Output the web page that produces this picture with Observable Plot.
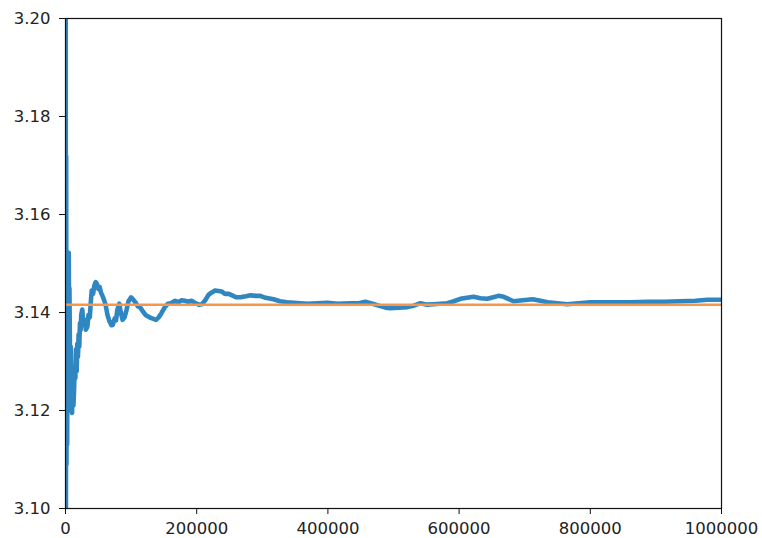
<!DOCTYPE html>
<html>
<head>
<meta charset="utf-8">
<script src="https://cdn.jsdelivr.net/npm/d3@7"></script>
<script src="https://cdn.jsdelivr.net/npm/@observablehq/plot@0.6"></script>
<style>
  html, body { margin: 0; padding: 0; background: #fff; }
  #chart svg { display: block; }
</style>
</head>
<body>
<div id="chart"></div>
<script>
// Number of samples (x) and running Monte-Carlo estimate of pi (y)
const samples = [
  1, 100, 300, 600, 1000, 1500, 2000, 2500, 3000, 3500, 4000, 4500, 5000, 5500, 6000,
  7000, 8000, 9000, 10000, 11000, 12000, 13000, 14000, 15000, 16000, 17000, 18000,
  19000, 20000, 21000, 22000, 23000, 24000, 25600, 27000, 29000, 31000, 33300, 35000,
  37000, 38500, 40000, 42000, 44000, 46000, 48000, 50000, 52000, 54000, 57000, 59000,
  61500, 64000, 67000, 70000, 72000, 75000, 77000, 79000, 82000, 84000, 87000, 90000,
  93000, 96000, 100000, 104000, 107000, 110000, 114000, 118000, 122000, 125600, 130000,
  134000, 138000, 142000, 146000, 151000, 156000, 161000, 167000, 172000, 177000,
  182000, 187000, 192000, 197000, 203000, 208000, 213000, 218000, 223000, 228000,
  233000, 238000, 243000, 249000, 254000, 260000, 266800, 275000, 282000, 290000,
  297000, 305000, 317000, 327000, 338000, 348000, 358000, 369000, 384000, 399000,
  415000, 434000, 447000, 457000, 468000, 480000, 488000, 495000, 508000, 521000,
  531000, 541000, 551000, 561000, 572000, 582000, 592000, 602000, 612000, 622000,
  632600, 643000, 652000, 660000, 668000, 683000, 697000, 712000, 724000, 735000,
  750000, 765000, 782000, 800000, 835000, 860000, 887000, 912000, 937000, 960000,
  979000, 1000000
];
const estimates = [
  4.0, 3.0, 3.24, 3.08, 3.172, 3.109, 3.15, 3.113, 3.138, 3.12, 3.148, 3.128, 3.1522, 3.135, 3.145,
  3.128, 3.133, 3.121, 3.1195, 3.1275, 3.121, 3.124, 3.129, 3.1266, 3.1325, 3.128, 3.1336,
  3.131, 3.1355, 3.133, 3.1378, 3.1364, 3.1395, 3.1406, 3.138, 3.1385, 3.1365, 3.1371, 3.1395,
  3.139, 3.142, 3.1445, 3.1438, 3.1455, 3.1462, 3.1458, 3.1448, 3.1452, 3.1441, 3.1432, 3.1425,
  3.1413, 3.1395, 3.1382, 3.1374, 3.1375, 3.1388, 3.1384, 3.1405, 3.1418, 3.1402, 3.1385, 3.139,
  3.1405, 3.1423, 3.1431, 3.1425, 3.142, 3.1413, 3.141, 3.1402, 3.1395, 3.1392, 3.1389,
  3.1387, 3.1385, 3.139, 3.1398, 3.141, 3.1418, 3.1419, 3.1424, 3.1421, 3.1425,
  3.1424, 3.1422, 3.1424, 3.142, 3.1416, 3.1417, 3.1425, 3.1436, 3.1441, 3.1445,
  3.1444, 3.1443, 3.1438, 3.1438, 3.1435, 3.1431, 3.1431, 3.1433, 3.1435, 3.1434,
  3.1434, 3.143, 3.1427, 3.1423, 3.1421, 3.142, 3.1419, 3.1418, 3.1419, 3.142,
  3.1418, 3.1419, 3.1419, 3.1422, 3.1418, 3.1413, 3.141, 3.1409, 3.141, 3.1411,
  3.1414, 3.1419, 3.1416, 3.1417, 3.1418, 3.1419, 3.1423, 3.1428, 3.143, 3.1432,
  3.1429, 3.1428, 3.1431, 3.1434, 3.1432, 3.1423, 3.1425, 3.1427, 3.1424, 3.1421,
  3.1419, 3.1417, 3.1419, 3.1421, 3.1421, 3.1421, 3.1422, 3.1422, 3.1423, 3.1424,
  3.1426, 3.1426
];
const piValue = 3.14159;
const xTicks = [0, 200000, 400000, 600000, 800000, 1000000];
const yTicks = [3.10, 3.12, 3.14, 3.16, 3.18, 3.20];

const data = samples.map((n, i) => ({n, est: estimates[i]}));

const chart = Plot.plot({
  width: 762,
  height: 538,
  marginLeft: 65,
  marginRight: 41,
  marginTop: 18,
  marginBottom: 30,
  style: {fontFamily: "DejaVu Sans", fontSize: "16.5px", color: "#222", background: "#fff"},
  x: {domain: [0, 1000000]},
  y: {domain: [3.10, 3.20]},
  marks: [
    Plot.line(data, {x: "n", y: "est", stroke: "#2f86c0", strokeWidth: 4.6, clip: true, strokeLinejoin: "round"}),
    Plot.ruleY([piValue], {stroke: "#f7964a", strokeWidth: 2.6}),
    Plot.frame({stroke: "#111", strokeWidth: 1.2}),
    Plot.axisX({ticks: xTicks, tickFormat: d => String(d), tickSize: 6, tickPadding: 8, label: null, stroke: "#111"}),
    Plot.axisY({ticks: yTicks, tickFormat: d => d.toFixed(2), tickSize: 6, tickPadding: 9, label: null, stroke: "#111"})
  ]
});
document.getElementById("chart").appendChild(chart);
</script>
</body>
</html>
